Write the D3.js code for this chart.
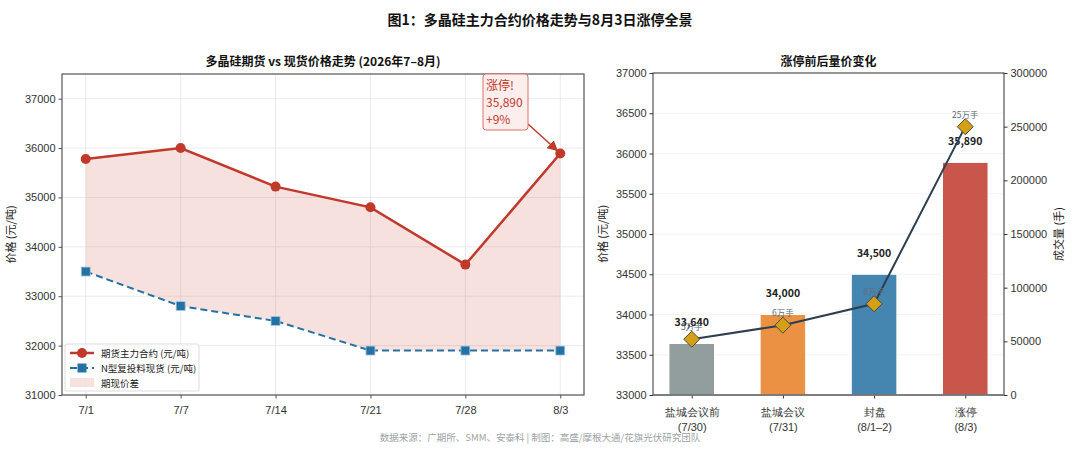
<!DOCTYPE html>
<html>
<head>
<meta charset="utf-8">
<script src="https://cdn.jsdelivr.net/npm/d3@7"></script>
<style>
  body { margin: 0; background: #fff; }
  svg { font-family: "Noto Sans CJK SC", "Noto Sans", sans-serif; }
  .tick text { fill: #333; font-size: 11px; }
</style>
</head>
<body>
<svg id="chart" width="1080" height="451"></svg>
<script>
// Left panel data
const dates = ['7/1', '7/7', '7/14', '7/21', '7/28', '8/3'];
const futures = [35780, 36000, 35220, 34800, 33640, 35890];
const spot = [33500, 32800, 32500, 31900, 31900, 31900];
const leftTicks = [31000, 32000, 33000, 34000, 35000, 36000, 37000];

// Right panel data
const stages = ['盐城会议前', '盐城会议', '封盘', '涨停'];
const stageDates = ['(7/30)', '(7/31)', '(8/1–2)', '(8/3)'];
const stagePrice = [33640, 34000, 34500, 35890];
const stageVolume = [52000, 65000, 85000, 250000];
const volumeLabels = ['5万手', '6万手', '8万手', '25万手'];
const barColors = ['#929d9e', '#ea9143', '#4586b1', '#c9564b'];

const svg = d3.select('#chart');

// Titles
svg.append('text').attr('x', 540).attr('y', 25).attr('text-anchor', 'middle')
    .attr('font-size', 14).attr('font-weight', 'bold').attr('fill', '#111')
    .text('图1：多晶硅主力合约价格走势与8月3日涨停全景');

svg.append('text').attr('x', 540).attr('y', 441).attr('text-anchor', 'middle')
    .attr('font-size', 9.5).attr('fill', '#9aa3a5')
    .text('数据来源：广期所、SMM、安泰科 | 制图：高盛/摩根大通/花旗光伏研究团队');

// ---------- Left panel ----------
const L = { left: 62, right: 584, top: 74, bottom: 395 };
const xL = d3.scaleLinear().domain([-0.25, 5.25]).range([L.left, L.right]);
const yL = d3.scaleLinear().domain([31000, 37500]).range([L.bottom, L.top]);

const gL = svg.append('g');

gL.append('text').attr('x', (L.left + L.right) / 2).attr('y', 66).attr('text-anchor', 'middle')
    .attr('font-size', 12).attr('font-weight', 'bold').attr('fill', '#111')
    .text('多晶硅期货 vs 现货价格走势 (2026年7–8月)');

// grid
gL.selectAll('.hgrid').data(leftTicks).enter().append('line')
    .attr('x1', L.left).attr('x2', L.right)
    .attr('y1', d => yL(d)).attr('y2', d => yL(d))
    .attr('stroke', '#e6e6e6').attr('stroke-width', 0.8);
gL.selectAll('.vgrid').data(dates).enter().append('line')
    .attr('x1', (d, i) => xL(i)).attr('x2', (d, i) => xL(i))
    .attr('y1', L.top).attr('y2', L.bottom)
    .attr('stroke', '#e6e6e6').attr('stroke-width', 0.8);

// spread fill
const area = d3.area()
    .x((d, i) => xL(i))
    .y0((d, i) => yL(spot[i]))
    .y1(d => yL(d));
gL.append('path').datum(futures).attr('d', area)
    .attr('fill', '#c0392b').attr('fill-opacity', 0.15);

// spot line
const line = d3.line().x((d, i) => xL(i)).y(d => yL(d));
gL.append('path').datum(spot).attr('d', line)
    .attr('fill', 'none').attr('stroke', '#2471a3').attr('stroke-width', 2)
    .attr('stroke-dasharray', '7,4');
gL.selectAll('.sq').data(spot).enter().append('rect')
    .attr('x', (d, i) => xL(i) - 4.5).attr('y', d => yL(d) - 4.5)
    .attr('width', 9).attr('height', 9)
    .attr('fill', '#2471a3').attr('stroke', '#a9cbe3').attr('stroke-width', 0.8);

// futures line
gL.append('path').datum(futures).attr('d', line)
    .attr('fill', 'none').attr('stroke', '#c0392b').attr('stroke-width', 2.5);
gL.selectAll('.dot').data(futures).enter().append('circle')
    .attr('cx', (d, i) => xL(i)).attr('cy', d => yL(d)).attr('r', 5)
    .attr('fill', '#c0392b');

// axes
const axL = gL.append('g').attr('transform', 'translate(' + L.left + ',0)')
    .call(d3.axisLeft(yL).tickValues(leftTicks).tickSize(3.5).tickFormat(d3.format('d')));
const axB = gL.append('g').attr('transform', 'translate(0,' + L.bottom + ')')
    .call(d3.axisBottom(xL).tickValues(d3.range(dates.length)).tickSize(3.5).tickFormat(i => dates[i]));
[axL, axB].forEach(a => {
    a.select('.domain').remove();
    a.selectAll('.tick line').attr('stroke', '#555');
});
axB.selectAll('.tick text').attr('dy', '1.1em');

gL.append('rect').attr('x', L.left).attr('y', L.top)
    .attr('width', L.right - L.left).attr('height', L.bottom - L.top)
    .attr('fill', 'none').attr('stroke', '#555').attr('stroke-width', 1.2);

gL.append('text').attr('transform', 'translate(15,' + (L.top + L.bottom) / 2 + ') rotate(-90)')
    .attr('text-anchor', 'middle').attr('font-size', 11).attr('fill', '#222')
    .text('价格 (元/吨)');

// annotation
const last = futures.length - 1;
const box = { x: 483, y: 74, w: 45, h: 56 };
svg.append('defs').append('marker').attr('id', 'arrow')
    .attr('viewBox', '0 0 10 10').attr('refX', 9).attr('refY', 5)
    .attr('markerWidth', 7).attr('markerHeight', 7).attr('orient', 'auto')
    .append('path').attr('d', 'M0,0 L10,5 L0,10 z').attr('fill', '#c0392b');
gL.append('line').attr('x1', box.x + box.w).attr('y1', box.y + box.h - 6)
    .attr('x2', xL(last) - 3).attr('y2', yL(futures[last]) - 3)
    .attr('stroke', '#c0392b').attr('stroke-width', 1.5).attr('marker-end', 'url(#arrow)');
gL.append('rect').attr('x', box.x).attr('y', box.y).attr('width', box.w).attr('height', box.h)
    .attr('rx', 3).attr('fill', '#fdeeee').attr('stroke', '#d9706a').attr('stroke-width', 1);
['涨停!', d3.format(',')(futures[last]), '+9%'].forEach((t, i) => {
    gL.append('text').attr('x', box.x + 3).attr('y', box.y + 16 + i * 17)
        .attr('font-size', 12).attr('fill', '#c0392b').text(t);
});

// legend
const lg = gL.append('g').attr('transform', 'translate(65,344)');
lg.append('rect').attr('width', 134).attr('height', 47).attr('rx', 2)
    .attr('fill', '#fff').attr('fill-opacity', 0.85).attr('stroke', '#ddd');
lg.append('line').attr('x1', 5).attr('x2', 29).attr('y1', 9).attr('y2', 9)
    .attr('stroke', '#c0392b').attr('stroke-width', 2.5);
lg.append('circle').attr('cx', 17).attr('cy', 9).attr('r', 5).attr('fill', '#c0392b');
lg.append('line').attr('x1', 5).attr('x2', 29).attr('y1', 24).attr('y2', 24)
    .attr('stroke', '#2471a3').attr('stroke-width', 2).attr('stroke-dasharray', '7,4');
lg.append('rect').attr('x', 12.5).attr('y', 19.5).attr('width', 9).attr('height', 9).attr('fill', '#2471a3');
lg.append('rect').attr('x', 5).attr('y', 34).attr('width', 24).attr('height', 9)
    .attr('fill', '#c0392b').attr('fill-opacity', 0.15);
['期货主力合约 (元/吨)', 'N型复投料现货 (元/吨)', '期现价差'].forEach((t, i) => {
    lg.append('text').attr('x', 36).attr('y', 12.5 + i * 15).attr('font-size', 9.5)
        .attr('fill', '#222').text(t);
});

// ---------- Right panel ----------
const R = { left: 653, right: 1004, top: 73, bottom: 395 };
const xR = d3.scaleLinear().domain([-0.425, 3.425]).range([R.left, R.right]);
const yR = d3.scaleLinear().domain([33000, 37000]).range([R.bottom, R.top]);
const yV = d3.scaleLinear().domain([0, 300000]).range([R.bottom, R.top]);
const bw = xR(0.25) - xR(-0.25);

const gR = svg.append('g');

gR.append('text').attr('x', (R.left + R.right) / 2).attr('y', 66).attr('text-anchor', 'middle')
    .attr('font-size', 12).attr('font-weight', 'bold').attr('fill', '#111')
    .text('涨停前后量价变化');

const rightTicks = d3.range(33000, 37001, 500);
gR.selectAll('.hgrid').data(rightTicks).enter().append('line')
    .attr('x1', R.left).attr('x2', R.right)
    .attr('y1', d => yR(d)).attr('y2', d => yR(d))
    .attr('stroke', '#f0f0f0').attr('stroke-width', 0.8);

gR.selectAll('.bar').data(stagePrice).enter().append('rect')
    .attr('x', (d, i) => xR(i) - bw / 2).attr('y', d => yR(d))
    .attr('width', bw).attr('height', d => R.bottom - yR(d))
    .attr('fill', (d, i) => barColors[i]).attr('stroke', '#fff').attr('stroke-width', 1);

gR.selectAll('.plabel').data(stagePrice).enter().append('text')
    .attr('x', (d, i) => xR(i)).attr('y', d => yR(d + 200) - 1)
    .attr('text-anchor', 'middle').attr('font-size', 10.5).attr('font-weight', 'bold')
    .attr('fill', '#222').text(d => d3.format(',')(d));

// volume line
const vline = d3.line().x((d, i) => xR(i)).y(d => yV(d));
gR.append('path').datum(stageVolume).attr('d', vline)
    .attr('fill', 'none').attr('stroke', '#2c3e50').attr('stroke-width', 2);
gR.selectAll('.dia').data(stageVolume).enter().append('path')
    .attr('d', 'M0,-8 L8,0 L0,8 L-8,0 Z')
    .attr('transform', (d, i) => 'translate(' + xR(i) + ',' + yV(d) + ')')
    .attr('fill', '#d4a017').attr('stroke', '#4a4a3a').attr('stroke-width', 1);
gR.selectAll('.vlabel').data(stageVolume).enter().append('text')
    .attr('x', (d, i) => xR(i)).attr('y', d => yV(d) - 9)
    .attr('text-anchor', 'middle').attr('font-size', 8.5).attr('fill', '#5d6d7e')
    .text((d, i) => volumeLabels[i]);

const axRL = gR.append('g').attr('transform', 'translate(' + R.left + ',0)')
    .call(d3.axisLeft(yR).tickValues(rightTicks).tickSize(3.5).tickFormat(d3.format('d')));
const axRR = gR.append('g').attr('transform', 'translate(' + R.right + ',0)')
    .call(d3.axisRight(yV).tickValues(d3.range(0, 300001, 50000)).tickSize(3.5).tickFormat(d3.format('d')));
const axRB = gR.append('g').attr('transform', 'translate(0,' + R.bottom + ')')
    .call(d3.axisBottom(xR).tickValues(d3.range(stages.length)).tickSize(3.5).tickFormat(''));
[axRL, axRR, axRB].forEach(a => {
    a.select('.domain').remove();
    a.selectAll('.tick line').attr('stroke', '#333');
});
axRB.selectAll('.tick').each(function(d) {
    const t = d3.select(this).append('text').attr('text-anchor', 'middle')
        .attr('font-size', 11).attr('fill', '#222');
    t.append('tspan').attr('x', 0).attr('y', 21).text(stages[d]);
    t.append('tspan').attr('x', 0).attr('y', 36).text(stageDates[d]);
});

gR.append('rect').attr('x', R.left).attr('y', R.top)
    .attr('width', R.right - R.left).attr('height', R.bottom - R.top)
    .attr('fill', 'none').attr('stroke', '#333').attr('stroke-width', 1);
gR.append('line').attr('x1', R.left).attr('x2', R.right).attr('y1', R.bottom).attr('y2', R.bottom)
    .attr('stroke', '#777').attr('stroke-width', 1.5);

gR.append('text').attr('transform', 'translate(607,' + (R.top + R.bottom) / 2 + ') rotate(-90)')
    .attr('text-anchor', 'middle').attr('font-size', 11).attr('fill', '#222')
    .text('价格 (元/吨)');
gR.append('text').attr('transform', 'translate(1063,' + (R.top + R.bottom) / 2 + ') rotate(-90)')
    .attr('text-anchor', 'middle').attr('font-size', 11).attr('fill', '#222')
    .text('成交量 (手)');
</script>
</body>
</html>
